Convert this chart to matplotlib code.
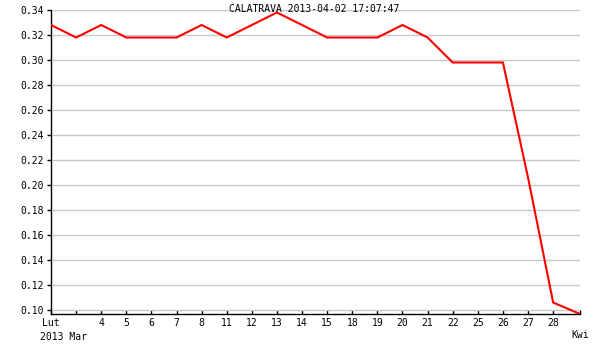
import matplotlib
matplotlib.use("Agg")
import matplotlib.pyplot as plt

title = "CALATRAVA 2013-04-02 17:07:47"
tick_labels = ['Lut', '', '4', '5', '6', '7', '8', '11', '12', '13', '14', '15',
               '18', '19', '20', '21', '22', '25', '26', '27', '28', '\nKwi']
x_pos = [0, 1, 2, 3, 4, 5, 6, 7, 8, 9, 10, 11, 12, 13, 14, 15, 16, 17, 18, 19, 20, 21.07]
values = [0.328, 0.318, 0.328, 0.318, 0.318, 0.318, 0.328, 0.318, 0.328, 0.338, 0.328,
          0.318, 0.318, 0.318, 0.328, 0.318, 0.298, 0.298, 0.298, 0.206, 0.106, 0.0968]
y_ticks = [0.10, 0.12, 0.14, 0.16, 0.18, 0.20, 0.22, 0.24, 0.26, 0.28, 0.30, 0.32, 0.34]

font = "DejaVu Sans Mono"
fs = 7

fig = plt.figure(figsize=(6, 3.5), dpi=100)
ax = fig.add_axes([51/600, 1-314/350, (580-51)/600, (314-10)/350])

ax.plot(x_pos, values, color='#ff0000', lw=1.5, solid_joinstyle='miter', zorder=3)

ax.set_xlim(0, x_pos[-1])
ax.set_ylim(0.0968, 0.34)
ax.set_yticks(y_ticks)
ax.set_yticklabels([f"{v:.2f}" for v in y_ticks], fontfamily=font, fontsize=fs)
ax.set_xticks(x_pos)
ax.set_xticklabels(tick_labels, fontfamily=font, fontsize=fs)
ax.grid(axis='y', color='#c8c8c8', lw=1)
ax.set_axisbelow(True)

for s in ['top', 'right']:
    ax.spines[s].set_visible(False)
for s in ['left', 'bottom']:
    ax.spines[s].set_color('black')
    ax.spines[s].set_linewidth(1)

ax.tick_params(axis='y', direction='out', length=3, width=1, pad=2)
ax.tick_params(axis='x', direction='in', length=3, width=1, pad=3)

fig.text(40/600, 1-337/350, "2013 Mar", fontfamily=font, fontsize=fs, ha='left', va='center')
fig.text(314/600, 1-9/350, title, fontfamily=font, fontsize=fs, ha='center', va='center')

fig.savefig("out.png", dpi=100, facecolor='white')
